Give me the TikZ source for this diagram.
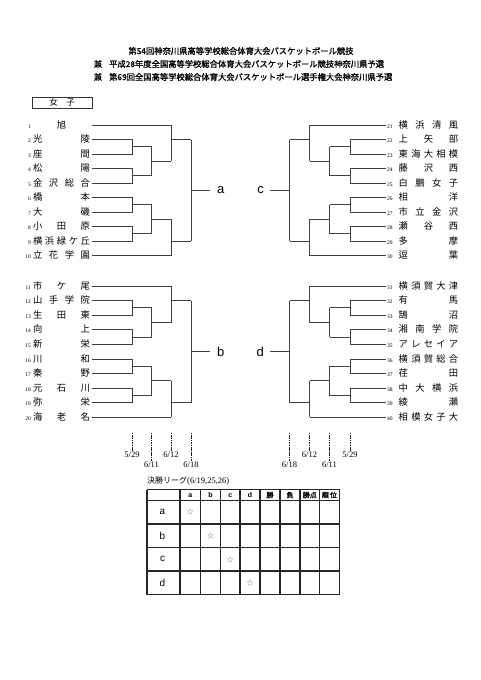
\documentclass[tikz,border=0pt]{standalone}
\usepackage{fontspec}
\setmainfont{Noto Sans CJK JP}
\newfontfamily\jpb{Noto Sans CJK JP}[FakeBold=1.2]
\newfontfamily\srf{Liberation Serif}
\newfontfamily\snf{Liberation Sans}
\usetikzlibrary{calc}
\tikzset{
 br/.style={draw=black!75, line width=0.9pt},
 ent/.style={inner sep=0pt, text height=7pt, text depth=1pt, font=\fontsize{9.3}{10}\selectfont},
 num/.style={inner sep=0pt, text height=7pt, text depth=1pt, font=\srf\fontsize{5.5}{6}\selectfont},
 ttl/.style={inner sep=0pt, font=\jpb\fontsize{8.3}{9}\selectfont},
 lbl/.style={inner sep=0pt, font=\snf\fontsize{13}{14}\selectfont},
 dte/.style={inner sep=0.5pt, font=\srf\fontsize{8.5}{9}\selectfont},
 dl/.style={draw=black!90, line width=0.8pt, dash pattern=on 1.2pt off 0.5pt},
 tb/.style={draw=black!85, line width=1.3pt},
 hd/.style={inner sep=0pt, font=\jpb\fontsize{7}{8}\selectfont},
 hdl/.style={inner sep=0pt, font=\snf\bfseries\fontsize{7}{8}\selectfont},
 rl/.style={inner sep=0pt, font=\snf\fontsize{10}{11}\selectfont},
 st/.style={inner sep=0pt, text=black!60, font=\fontsize{7}{8}\selectfont},
}
\newcommand\entL[4]{%
 \node[num, anchor=east] (#1n) at (31,#2) {#3};
 \node[ent, anchor=west, outer xsep=1.5pt] (#1) at (31.5,#2) {\makebox[57pt]{#4}};
}
\newcommand\entR[4]{%
 \node[num, anchor=west, outer xsep=1pt] (#1) at (386,#2) {#3};
 \node[ent, anchor=west] (#1t) at (398.5,#2) {\makebox[59.5pt]{#4}};
}
\newcommand\pr[5]{%
 \draw[br] (#1) -- (#3,0 |- #1) -- (#3,0 |- #2) -- (#2);
 \coordinate (#5) at ($(#3,0 |- #1)!0.5!(#3,0 |- #2)$);
 \draw[br] (#5) -- (#4,0 |- #5);
}
\newcommand\vj[5]{%
 \draw[br] (#3,0 |- #1) -- (#3,0 |- #2);
 \coordinate (#4) at ($(#3,0 |- #1)!#5!(#3,0 |- #2)$);
}
\newcommand\grp[6]{%
 \pr{#12}{#13}{#2}{#3}{#1pa}
 \pr{#14}{#15}{#2}{#3}{#1pb}
 \vj{#1pa}{#1pb}{#3}{#1qa}{0.5}
 \draw[br] (#1qa) -- (#4,0 |- #1qa);
 \draw[br] (#11) -- (#4,0 |- #11);
 \vj{#11}{#1qa}{#4}{#1ra}{0.4}
 \draw[br] (#1ra) -- (#5,0 |- #1ra);
 \pr{#16}{#17}{#2}{#3}{#1pc}
 \pr{#18}{#19}{#2}{#3}{#1pd}
 \vj{#1pc}{#1pd}{#3}{#1qb}{0.5}
 \draw[br] (#1qb) -- (#4,0 |- #1qb);
 \draw[br] (#110) -- (#4,0 |- #110);
 \vj{#110}{#1qb}{#4}{#1rb}{0.4}
 \draw[br] (#1rb) -- (#5,0 |- #1rb);
 \vj{#1ra}{#1rb}{#5}{#1f}{0.5}
 \coordinate (#1end) at (#6,0 |- #1f);
 \draw[br] (#1f) -- (#1end);
}
\newcommand\dt[4]{%
 \node[dte] (#1) at (#2,#3) {#4};
 \coordinate (#1top) at (#2,433);
 \draw[dl] (#1top) -- (#1.north);
}
\begin{document}
\begin{tikzpicture}[x=1pt,y=-1pt]
\fill[white] (0,0) rectangle (481,680);
\path[use as bounding box] (0,0) rectangle (481,680);

% title
\node[ttl] (t1) at (241,51) {第54回神奈川県高等学校総合体育大会バスケットボール競技};
\node[ttl] (k2) at (98,64) {兼};
\node[ttl, anchor=west] (t2) at (109,64) {平成28年度全国高等学校総合体育大会バスケットボール競技神奈川県予選};
\node[ttl] (k3) at (98,77) {兼};
\node[ttl, anchor=west] (t3) at (109,77) {第69回全国高等学校総合体育大会バスケットボール選手権大会神奈川県予選};

\node[draw=black!80, line width=0.8pt, minimum width=60pt, minimum height=11pt, inner sep=0pt, font=\fontsize{8.5}{9}\selectfont] (gbox) at (62,102.5) {女　子};

% left top
\entL{A1}{125}{1}{\hfill 旭\hfill}
\entL{A2}{139.5}{2}{光\hfill 陵}
\entL{A3}{154}{3}{座\hfill 間}
\entL{A4}{168.5}{4}{松\hfill 陽}
\entL{A5}{183}{5}{金\hfill 沢\hfill 総\hfill 合}
\entL{A6}{197.5}{6}{橋\hfill 本}
\entL{A7}{212}{7}{大\hfill 磯}
\entL{A8}{226.5}{8}{小\hfill 田\hfill 原}
\entL{A9}{241}{9}{横\hfill 浜\hfill 緑\hfill ケ\hfill 丘}
\entL{A10}{255.5}{10}{立\hfill 花\hfill 学\hfill 園}
% left bottom
\entL{B1}{286}{11}{市\hfill ケ\hfill 尾}
\entL{B2}{300.6}{12}{山\hfill 手\hfill 学\hfill 院}
\entL{B3}{315.2}{13}{生\hfill 田\hfill 東}
\entL{B4}{329.8}{14}{向\hfill 上}
\entL{B5}{344.4}{15}{新\hfill 栄}
\entL{B6}{359}{16}{川\hfill 和}
\entL{B7}{373.6}{17}{秦\hfill 野}
\entL{B8}{388.2}{18}{元\hfill 石\hfill 川}
\entL{B9}{402.8}{19}{弥\hfill 栄}
\entL{B10}{417.4}{20}{海\hfill 老\hfill 名}
% right top
\entR{C1}{125}{21}{横\hfill 浜\hfill 清\hfill 風}
\entR{C2}{139.5}{22}{上\hfill 矢\hfill 部}
\entR{C3}{154}{23}{東\hfill 海\hfill 大\hfill 相\hfill 模}
\entR{C4}{168.5}{24}{藤\hfill 沢\hfill 西}
\entR{C5}{183}{25}{白\hfill 鵬\hfill 女\hfill 子}
\entR{C6}{197.5}{26}{相\hfill 洋}
\entR{C7}{212}{27}{市\hfill 立\hfill 金\hfill 沢}
\entR{C8}{226.5}{28}{瀬\hfill 谷\hfill 西}
\entR{C9}{241}{29}{多\hfill 摩}
\entR{C10}{255.5}{30}{逗\hfill 葉}
% right bottom
\entR{D1}{286}{31}{横\hfill 須\hfill 賀\hfill 大\hfill 津}
\entR{D2}{300.6}{32}{有\hfill 馬}
\entR{D3}{315.2}{33}{鵠\hfill 沼}
\entR{D4}{329.8}{34}{湘\hfill 南\hfill 学\hfill 院}
\entR{D5}{344.4}{35}{ア\hfill レ\hfill セ\hfill イ\hfill ア}
\entR{D6}{359}{36}{横\hfill 須\hfill 賀\hfill 総\hfill 合}
\entR{D7}{373.6}{37}{荏\hfill 田}
\entR{D8}{388.2}{38}{中\hfill 大\hfill 横\hfill 浜}
\entR{D9}{402.8}{39}{綾\hfill 瀬}
\entR{D10}{417.4}{40}{相\hfill 模\hfill 女\hfill 子\hfill 大}

\grp{A}{132}{151.5}{171}{191}{210}
\grp{B}{132}{151.5}{171}{191}{210}
\grp{C}{350}{329.5}{309.5}{289.5}{270}
\grp{D}{350}{329.5}{309.5}{289.5}{270}

\node[lbl, anchor=west] (la) at ($(Aend)+(7,0)$) {a};
\node[lbl, anchor=west] (lb) at ($(Bend)+(7,0)$) {b};
\node[lbl, anchor=east] (lc) at ($(Cend)+(-6,0)$) {c};
\node[lbl, anchor=east] (ld) at ($(Dend)+(-6,0)$) {d};

% dates
\dt{d1}{132}{455}{5/29}
\dt{d2}{151.5}{464.5}{6/11}
\dt{d3}{171}{455}{6/12}
\dt{d4}{191}{464.5}{6/18}
\dt{d5}{289.5}{464.5}{6/18}
\dt{d6}{309.5}{455}{6/12}
\dt{d7}{329.5}{464.5}{6/11}
\dt{d8}{350}{455}{5/29}

% final league
\node[inner sep=0pt, anchor=west, font=\fontsize{8}{9}\selectfont] (cap) at (147,481) {決勝リーグ{\srf\fontsize{8.5}{9}\selectfont (6/19,25,26)}};
\foreach \x in {147,180,200.5,220.5,240,260,280,300,319.5,339.5} \draw[tb] (\x,489.5) -- (\x,594.5);
\foreach \y in {489.5,500.5,524,547.7,571,594.5} \draw[tb] (147,\y) -- (339.5,\y);
\node[hdl] (ha) at (190.25,495.3) {a};
\node[hdl] (hb) at (210.5,495.3) {b};
\node[hdl] (hc) at (230.25,495.3) {c};
\node[hdl] (hd) at (250,495.3) {d};
\node[hd] (hw) at (270,495) {勝};
\node[hd] (hl) at (290,495) {負};
\node[hd] (hp) at (309.75,495) {勝点};
\node[hd] (hr) at (329.5,495) {順\,位};
\node[rl] (ra) at (162.5,512.25) {a};
\node[rl] (rb) at (162.5,535.85) {b};
\node[rl] (rc) at (162.5,559.35) {c};
\node[rl] (rd) at (162.5,582.75) {d};
\node[st] (sa) at (190.25,512.25) {☆};
\node[st] (sb) at (210.5,535.85) {☆};
\node[st] (sc) at (230.25,559.35) {☆};
\node[st] (sd) at (250,582.75) {☆};
\end{tikzpicture}
\end{document}
